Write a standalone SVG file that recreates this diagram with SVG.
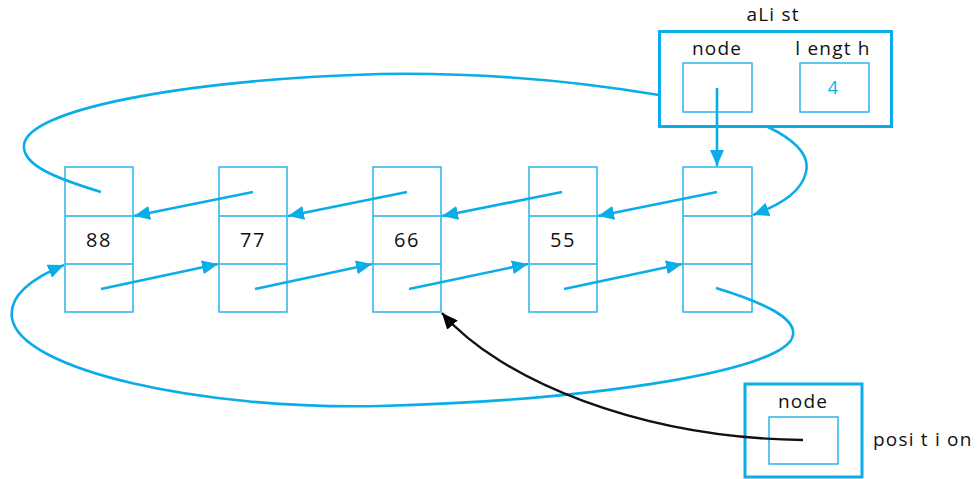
<svg xmlns="http://www.w3.org/2000/svg" width="977" height="479" viewBox="0 0 977 479">
  <style>
    .cell { fill: none; stroke: #1cb0e8; stroke-width: 1.4; }
    .frame { fill: #ffffff; stroke: #0aade8; stroke-width: 3; }
    .link { fill: none; stroke: #0aade8; stroke-width: 2.6; stroke-linecap: butt; }
    .ptr { fill: none; stroke: #111111; stroke-width: 2.4; }
    .lbl { font-family: "Open Sans", "DejaVu Sans", sans-serif; font-size: 19px; fill: #111111; letter-spacing: 1.2px; }
    .val { font-family: "Open Sans", "DejaVu Sans", sans-serif; font-size: 20px; fill: #111111; letter-spacing: 1.6px; text-anchor: middle; }
  </style>
  <defs>
    <marker id="arrowBlue" markerUnits="userSpaceOnUse" markerWidth="18" markerHeight="14" refX="16" refY="7" orient="auto">
      <path d="M0,0 L16,7 L0,14 Z" fill="#0aade8"/>
    </marker>
    <marker id="arrowBlack" markerUnits="userSpaceOnUse" markerWidth="18" markerHeight="14" refX="16" refY="7" orient="auto">
      <path d="M0,0 L16,7 L0,14 Z" fill="#000000"/>
    </marker>
  </defs>

  <!-- list nodes: prev / data / next cells -->
  <g id="node-88">
    <rect class="cell" x="65" y="167" width="68" height="145"/>
    <line class="cell" x1="65" y1="216" x2="133" y2="216"/>
    <line class="cell" x1="65" y1="264" x2="133" y2="264"/>
    <text class="val" x="99" y="247">88</text>
  </g>
  <g id="node-77">
    <rect class="cell" x="219" y="167" width="68" height="145"/>
    <line class="cell" x1="219" y1="216" x2="287" y2="216"/>
    <line class="cell" x1="219" y1="264" x2="287" y2="264"/>
    <text class="val" x="253" y="247">77</text>
  </g>
  <g id="node-66">
    <rect class="cell" x="373" y="167" width="68" height="145"/>
    <line class="cell" x1="373" y1="216" x2="441" y2="216"/>
    <line class="cell" x1="373" y1="264" x2="441" y2="264"/>
    <text class="val" x="407" y="247">66</text>
  </g>
  <g id="node-55">
    <rect class="cell" x="529" y="167" width="68" height="145"/>
    <line class="cell" x1="529" y1="216" x2="597" y2="216"/>
    <line class="cell" x1="529" y1="264" x2="597" y2="264"/>
    <text class="val" x="563" y="247">55</text>
  </g>
  <g id="node-header">
    <rect class="cell" x="683" y="167" width="69" height="145"/>
    <line class="cell" x1="683" y1="216" x2="752" y2="216"/>
    <line class="cell" x1="683" y1="264" x2="752" y2="264"/>
  </g>

  <!-- list object -->
  <g id="aList">
    <text class="lbl" x="773" y="21" text-anchor="middle">aLi st</text>
    <rect class="frame" x="659.5" y="31.5" width="232" height="95"/>
    <text class="lbl" x="717" y="55" text-anchor="middle">node</text>
    <text class="lbl" x="833" y="55" text-anchor="middle">l engt h</text>
    <rect class="cell" x="683" y="63" width="69" height="49"/>
    <rect class="cell" x="800" y="63" width="69" height="49"/>
    <text x="833" y="94" text-anchor="middle" font-family="Open Sans, DejaVu Sans, sans-serif" font-size="18" fill="#0aade8">4</text>
  </g>

  <!-- position variable -->
  <g id="position">
    <rect class="frame" x="745" y="384" width="117" height="93"/>
    <text class="lbl" x="803" y="408" text-anchor="middle">node</text>
    <rect class="cell" x="769" y="417" width="69" height="47"/>
    <text class="lbl" x="873" y="446">posi t i on</text>
  </g>

  <g id="connectors">
    <!-- prev links -->
    <line class="link" x1="253" y1="192" x2="134" y2="216" marker-end="url(#arrowBlue)"/>
    <line class="link" x1="407" y1="192" x2="288" y2="216" marker-end="url(#arrowBlue)"/>
    <line class="link" x1="562" y1="192" x2="442" y2="216" marker-end="url(#arrowBlue)"/>
    <line class="link" x1="717" y1="192" x2="598" y2="216" marker-end="url(#arrowBlue)"/>
    <!-- next links -->
    <line class="link" x1="101" y1="289" x2="218" y2="264" marker-end="url(#arrowBlue)"/>
    <line class="link" x1="255" y1="289" x2="372" y2="264" marker-end="url(#arrowBlue)"/>
    <line class="link" x1="409" y1="289" x2="528" y2="264" marker-end="url(#arrowBlue)"/>
    <line class="link" x1="564" y1="289" x2="682" y2="264" marker-end="url(#arrowBlue)"/>
    <!-- head pointer -->
    <line class="link" x1="717" y1="88" x2="717" y2="166" marker-end="url(#arrowBlue)"/>
    <!-- circular prev link, passing behind the list object -->
    <path class="link" d="M101,192 C55,178 22,165 24,145 C27,110 180,80 380,74 C500,72 600,85 659,95"/>
    <path class="link" d="M768,127 C795,140 810,155 806,172 C802,190 785,203 753,215" marker-end="url(#arrowBlue)"/>
    <!-- circular next link -->
    <path class="link" d="M716,288 C765,303 796,318 793,335 C788,370 600,400 380,406 C200,410 20,370 12,318 C8,292 40,275 64,265" marker-end="url(#arrowBlue)"/>
    <!-- position reference -->
    <path class="ptr" d="M803,440 C640,438 500,380 442,313" marker-end="url(#arrowBlack)"/>
  </g>
</svg>
